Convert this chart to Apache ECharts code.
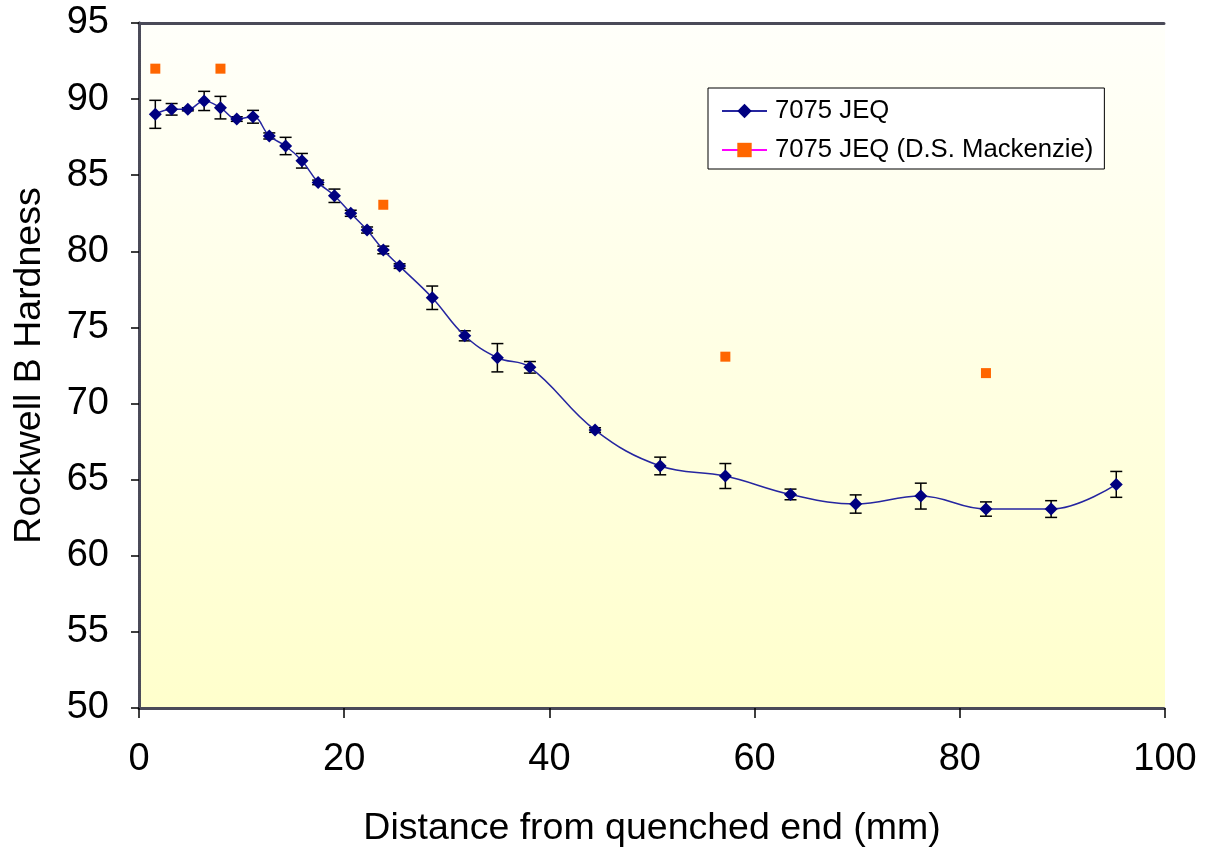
<!DOCTYPE html>
<html>
<head>
<meta charset="utf-8">
<script src="https://cdn.jsdelivr.net/npm/echarts@6/dist/echarts.min.js"></script>
<style>
html,body{margin:0;padding:0;background:#fff;}
#chart{width:1210px;height:854px;}
</style>
</head>
<body>
<div id="chart"></div>
<script>
// Distance from quenched end (mm)
var distances = [1.59, 3.18, 4.76, 6.35, 7.94, 9.53, 11.11, 12.70, 14.29, 15.88, 17.46, 19.05, 20.64, 22.23, 23.81, 25.40, 28.58, 31.75, 34.93, 38.10, 44.45, 50.80, 57.15, 63.50, 69.85, 76.20, 82.55, 88.90, 95.25];
// Rockwell B hardness, 7075 JEQ
var hardness = [89.0, 89.33, 89.33, 89.88, 89.44, 88.69, 88.84, 87.58, 86.92, 85.95, 84.53, 83.65, 82.5, 81.4, 80.09, 79.03, 76.95, 74.45, 73.01, 72.38, 68.26, 65.9, 65.24, 64.03, 63.4, 63.92, 63.07, 63.07, 64.69];
// Error (+/-)
var errors = [0.92, 0.38, 0.1, 0.63, 0.74, 0.15, 0.42, 0.2, 0.57, 0.48, 0.15, 0.44, 0.2, 0.2, 0.25, 0.15, 0.77, 0.33, 0.93, 0.38, 0.15, 0.58, 0.82, 0.35, 0.6, 0.85, 0.47, 0.55, 0.85];
// D.S. Mackenzie reference
var mackDist = [1.59, 7.94, 23.81, 57.15, 82.55];
var mackHard = [92, 92, 83.06, 73.08, 72];

var seriesNames = ['7075 JEQ', '7075 JEQ (D.S. Mackenzie)'];
var xTitle = 'Distance from quenched end (mm)';
var yTitle = 'Rockwell B Hardness';

var FONT = "'Liberation Sans', Arial, sans-serif";

var mainData = distances.map(function (d, i) { return [d, hardness[i]]; });
var errData = distances.map(function (d, i) { return [d, hardness[i] - errors[i], hardness[i] + errors[i]]; });
var mackData = mackDist.map(function (d, i) { return [d, mackHard[i]]; });

var chart = echarts.init(document.getElementById('chart'), null, {renderer: 'canvas'});

var borderLine = {show: true, lineStyle: {color: '#4a4a58', width: 3, type: [1, 1]}};

var option = {
  backgroundColor: '#ffffff',
  animation: false,
  grid: {
    left: 139, right: 45, top: 23, bottom: 146,
    outerBoundsMode: 'none',
    containLabel: false,
    show: true,
    borderWidth: 0,
    backgroundColor: new echarts.graphic.LinearGradient(0, 0, 0, 1, [
      {offset: 0, color: '#fffffa'},
      {offset: 1, color: '#ffffcc'}
    ])
  },
  legend: {
    orient: 'vertical',
    left: 708, top: 88,
    padding: [10, 11, 6, 13],
    itemGap: 13,
    itemWidth: 45,
    itemHeight: 18,
    backgroundColor: '#ffffff',
    borderColor: '#000000',
    borderWidth: 1,
    borderRadius: 0,
    textStyle: {fontFamily: FONT, fontSize: 25.7, color: '#000', lineHeight: 26, padding: [0, 0, 0, 3]},
    data: [
      {name: seriesNames[0]},
      {name: seriesNames[1], lineStyle: {color: '#ff00ff', width: 2, opacity: 1}, itemStyle: {color: '#ff6600'}}
    ]
  },
  xAxis: [{
    type: 'value', min: 0, max: 100, interval: 20,
    position: 'bottom',
    axisLine: borderLine,
    axisTick: {show: true, inside: false, length: 10, lineStyle: {color: '#000', width: 1.5}},
    splitLine: {show: false},
    axisLabel: {fontFamily: FONT, fontSize: 38, color: '#000', margin: 33},
    name: xTitle, nameLocation: 'middle', nameGap: 102,
    nameTextStyle: {fontFamily: FONT, fontSize: 37.5, color: '#000'}
  }, {
    type: 'value', min: 0, max: 100, interval: 20,
    position: 'top',
    axisLine: borderLine,
    axisTick: {show: false}, axisLabel: {show: false}, splitLine: {show: false}
  }],
  yAxis: [{
    type: 'value', min: 50, max: 95, interval: 5,
    position: 'left',
    axisLine: borderLine,
    axisTick: {show: true, inside: false, length: 8, lineStyle: {color: '#000', width: 1.5}},
    splitLine: {show: false},
    axisLabel: {fontFamily: FONT, fontSize: 38, color: '#000', margin: 30},
    name: yTitle, nameLocation: 'middle', nameGap: 90, nameRotate: 90,
    nameTextStyle: {fontFamily: FONT, fontSize: 37.5, color: '#000'}
  }, {
    type: 'value', min: 50, max: 95, interval: 5,
    position: 'right',
    axisLine: borderLine,
    axisTick: {show: false}, axisLabel: {show: false}, splitLine: {show: false}
  }],
  series: [
    {
      type: 'custom',
      name: 'errorbars',
      z: 2,
      silent: true,
      data: errData,
      encode: {x: 0, y: [1, 2]},
      renderItem: function (params, api) {
        var x = api.value(0);
        var lo = api.coord([x, api.value(1)]);
        var hi = api.coord([x, api.value(2)]);
        var hw = 6;
        var st = {stroke: '#000', lineWidth: 1.5, fill: null};
        return {
          type: 'group',
          children: [
            {type: 'line', shape: {x1: lo[0], y1: lo[1], x2: hi[0], y2: hi[1]}, style: st},
            {type: 'line', shape: {x1: lo[0] - hw, y1: lo[1], x2: lo[0] + hw, y2: lo[1]}, style: st},
            {type: 'line', shape: {x1: hi[0] - hw, y1: hi[1], x2: hi[0] + hw, y2: hi[1]}, style: st}
          ]
        };
      }
    },
    {
      type: 'line',
      name: seriesNames[0],
      z: 3,
      data: mainData,
      smooth: 0.4,
      symbol: 'diamond',
      symbolSize: 13,
      itemStyle: {color: '#000080'},
      lineStyle: {color: '#2626a0', width: 1.5}
    },
    {
      type: 'line',
      name: seriesNames[1],
      z: 4,
      data: mackData,
      symbol: 'rect',
      symbolSize: 10,
      itemStyle: {color: '#ff6600'},
      lineStyle: {color: '#ff00ff', width: 0, opacity: 0}
    }
  ]
};
chart.setOption(option);
</script>
</body>
</html>
